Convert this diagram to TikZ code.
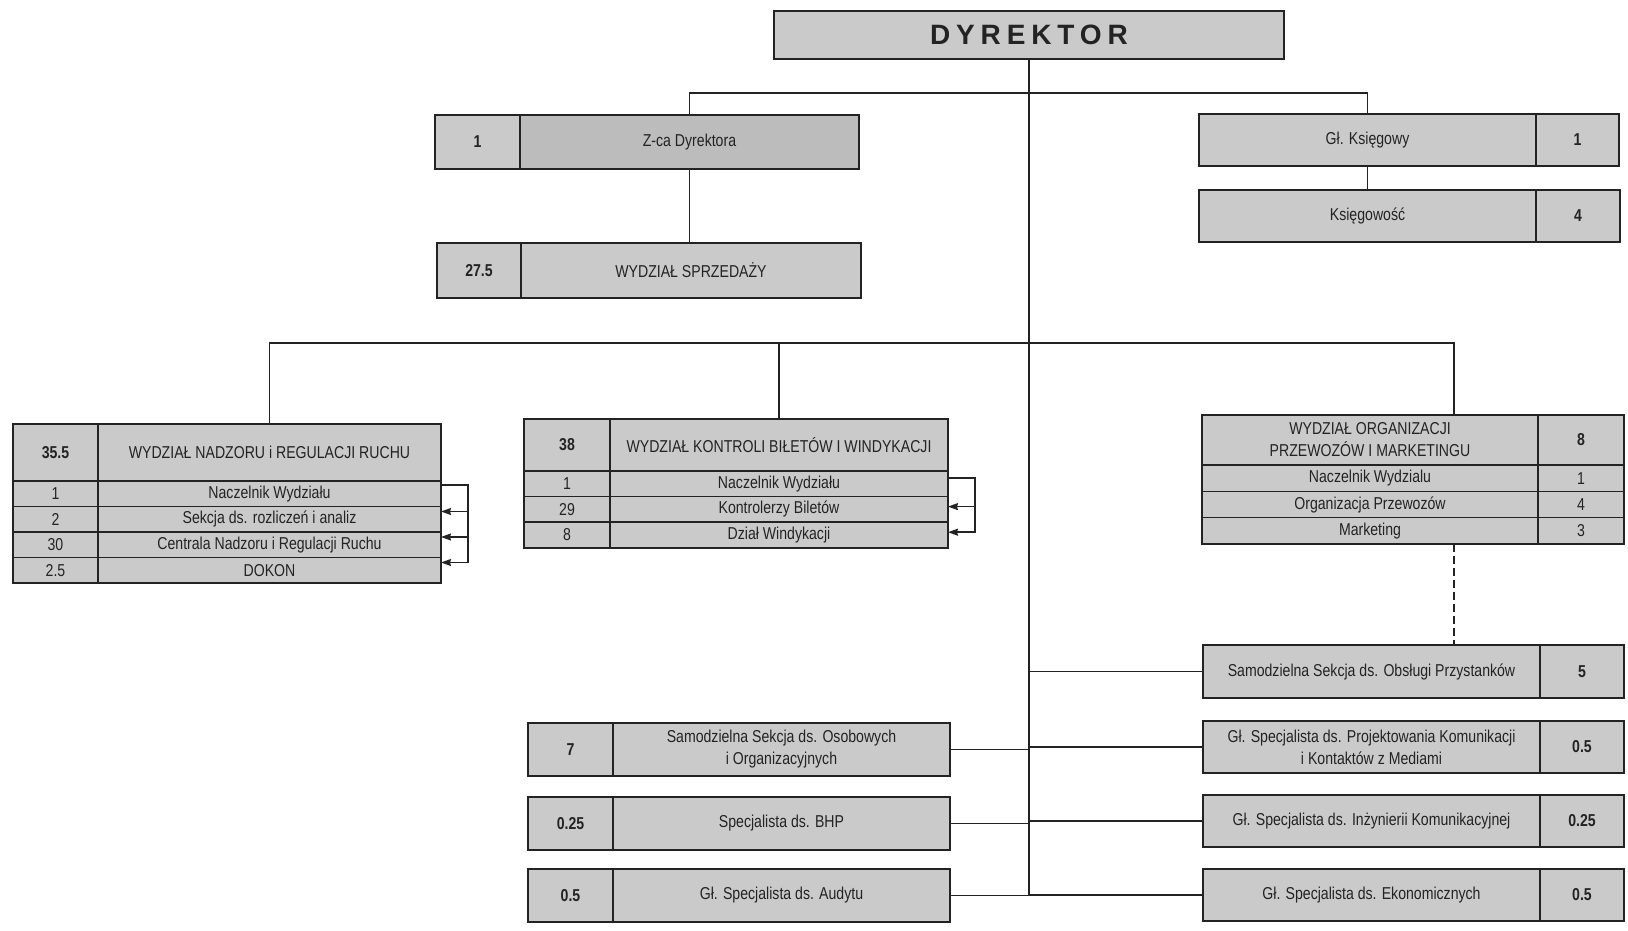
\documentclass[tikz,border=0pt]{standalone}
\usepackage{fontspec}
\setmainfont[FakeStretch=0.82]{Liberation Sans}
\newfontfamily\dirfont[LetterSpace=21]{Liberation Sans}
\usetikzlibrary{arrows.meta}

\definecolor{cellgray}{RGB}{202,202,202}
\definecolor{darkgray}{RGB}{188,188,188}
\definecolor{inkgray}{RGB}{35,35,35}

\tikzset{
  cell/.style={draw=inkgray,fill=cellgray,text=inkgray,inner sep=0pt,outer sep=0pt,
    anchor=north west,align=center,font=\fontsize{8.6}{11}\selectfont},
  head/.style={cell,line width=1.4pt},
  row/.style={cell,line width=0.8pt},
  num/.style={font=\fontsize{8.6}{11}\selectfont\bfseries},
  link/.style={draw=inkgray,line width=0.8pt},
  fb/.style={link,-{Stealth[length=5pt,width=3.5pt,inset=0.5pt]}},
}

\begin{document}
\begin{tikzpicture}[x=0.5pt,y=-0.5pt]
        \useasboundingbox (0,0) rectangle (1628,931);
        % kierownictwo
        \node [head,minimum width=255pt,minimum height=24pt,font=\dirfont\bfseries\fontsize{14}{16}\selectfont] (dyr) at (774,11) {DYREKTOR};
        \node [head,num,minimum width=42.5pt,minimum height=27pt] (zcaN) at (435,115) {1};
        \node [head,fill=darkgray,minimum width=169.5pt,minimum height=27pt] (zca) at (520,115) {Z-ca Dyrektora};
        \node [head,num,minimum width=42pt,minimum height=27.5pt] (sprN) at (437,243) {27.5};
        \node [head,minimum width=170pt,minimum height=27.5pt] (spr) at (521,243) {WYDZIAŁ SPRZEDAŻY};
        \node [head,minimum width=168.5pt,minimum height=26pt] (ksg) at (1199,114) {Gł. Księgowy};
        \node [head,num,minimum width=41.5pt,minimum height=26pt] (ksgN) at (1536,114) {1};
        \node [head,minimum width=168.5pt,minimum height=26pt] (ksw) at (1199,190) {Księgowość};
        \node [head,num,minimum width=42pt,minimum height=26pt] (kswN) at (1536,190) {4};

        % wydzial nadzoru
        \node [head,num,minimum width=42.5pt,minimum height=28.5pt] (nadN) at (13,424) {35.5};
        \node [head,minimum width=171.5pt,minimum height=28.5pt] (nad) at (98,424) {WYDZIAŁ NADZORU i REGULACJI RUCHU};
        \node [row,minimum width=42.5pt,minimum height=12.75pt] (nad1N) at (13,481) {1};
        \node [row,minimum width=171.5pt,minimum height=12.75pt] (nad1) at (98,481) {Naczelnik Wydziału};
        \node [row,minimum width=42.5pt,minimum height=12.75pt] (nad2N) at (13,506.5) {2};
        \node [row,minimum width=171.5pt,minimum height=12.75pt] (nad2) at (98,506.5) {Sekcja ds. rozliczeń i analiz};
        \node [row,minimum width=42.5pt,minimum height=12.75pt] (nad3N) at (13,532) {30};
        \node [row,minimum width=171.5pt,minimum height=12.75pt] (nad3) at (98,532) {Centrala Nadzoru i Regulacji Ruchu};
        \node [row,minimum width=42.5pt,minimum height=12.75pt] (nad4N) at (13,557.5) {2.5};
        \node [row,minimum width=171.5pt,minimum height=12.75pt] (nad4) at (98,557.5) {DOKON};

        % wydzial kontroli
        \node [head,num,minimum width=43pt,minimum height=26pt] (konN) at (524,419) {38};
        \node [head,minimum width=169pt,minimum height=26pt] (kon) at (610,419) {WYDZIAŁ KONTROLI BIŁETÓW I WINDYKACJI};
        \node [row,minimum width=43pt,minimum height=12.8pt] (kon1N) at (524,471) {1};
        \node [row,minimum width=169pt,minimum height=12.8pt] (kon1) at (610,471) {Naczelnik Wydziału};
        \node [row,minimum width=43pt,minimum height=12.8pt] (kon2N) at (524,496.6) {29};
        \node [row,minimum width=169pt,minimum height=12.8pt] (kon2) at (610,496.6) {Kontrolerzy Biletów};
        \node [row,minimum width=43pt,minimum height=12.8pt] (kon3N) at (524,522.2) {8};
        \node [row,minimum width=169pt,minimum height=12.8pt] (kon3) at (610,522.2) {Dział Windykacji};

        % wydzial organizacji
        \node [head,minimum width=168pt,minimum height=25pt] (org) at (1202,415) {WYDZIAŁ ORGANIZACJI\\PRZEWOZÓW I MARKETINGU};
        \node [head,num,minimum width=43pt,minimum height=25pt] (orgN) at (1538,415) {8};
        \node [row,minimum width=168pt,minimum height=13.15pt] (org1) at (1202,465) {Naczelnik Wydzialu};
        \node [row,minimum width=43pt,minimum height=13.15pt] (org1N) at (1538,465) {1};
        \node [row,minimum width=168pt,minimum height=13.15pt] (org2) at (1202,491.3) {Organizacja Przewozów};
        \node [row,minimum width=43pt,minimum height=13.15pt] (org2N) at (1538,491.3) {4};
        \node [row,minimum width=168pt,minimum height=13.15pt] (org3) at (1202,517.6) {Marketing};
        \node [row,minimum width=43pt,minimum height=13.15pt] (org3N) at (1538,517.6) {3};

        % stanowiska samodzielne
        \node [head,minimum width=168.5pt,minimum height=26.5pt] (obs) at (1203,645) {Samodzielna Sekcja ds. Obsługi Przystanków};
        \node [head,num,minimum width=42pt,minimum height=26.5pt] (obsN) at (1540,645) {5};
        \node [head,minimum width=168.5pt,minimum height=26pt] (pro) at (1203,721) {Gł. Specjalista ds. Projektowania Komunikacji\\i Kontaktów z Mediami};
        \node [head,num,minimum width=42pt,minimum height=26pt] (proN) at (1540,721) {0.5};
        \node [head,minimum width=168.5pt,minimum height=26pt] (inz) at (1203,795) {Gł. Specjalista ds. Inżynierii Komunikacyjnej};
        \node [head,num,minimum width=42pt,minimum height=26pt] (inzN) at (1540,795) {0.25};
        \node [head,minimum width=168.5pt,minimum height=26pt] (eko) at (1203,869) {Gł. Specjalista ds. Ekonomicznych};
        \node [head,num,minimum width=42pt,minimum height=26pt] (ekoN) at (1540,869) {0.5};
        \node [head,num,minimum width=42.5pt,minimum height=26.5pt] (osoN) at (528,723) {7};
        \node [head,minimum width=168.5pt,minimum height=26.5pt] (oso) at (613,723) {Samodzielna Sekcja ds. Osobowych\\i Organizacyjnych};
        \node [head,num,minimum width=42.5pt,minimum height=26.5pt] (bhpN) at (528,797) {0.25};
        \node [head,minimum width=168.5pt,minimum height=26.5pt] (bhp) at (613,797) {Specjalista ds. BHP};
        \node [head,num,minimum width=42.5pt,minimum height=26.5pt] (audN) at (528,869) {0.5};
        \node [head,minimum width=168.5pt,minimum height=26.5pt] (aud) at (613,869) {Gł. Specjalista ds. Audytu};

        % polaczenia
        \coordinate (topbar) at (690,93);
        \coordinate (busR) at (1454,343);
        \draw[link] (dyr.south) -- (dyr.south |- eko.west);
        \draw[link] (zca.north) |- (ksg.north |- topbar) -- (ksg.north);
        \draw[link] (zca.south) -- (zca.south |- spr.north);
        \draw[link] (ksg.south) -- (ksw.north);
        \draw[link] (nad.north) |- (busR) -- (busR |- org.north);
        \draw[link] (kon.north) -- (kon.north |- busR);
        \draw[link,dash pattern=on 4pt off 2pt] (busR |- org3.south) -- (busR |- obs.north);
        \draw[link] (dyr.south |- obs.west) -- (obs.west);
        \draw[link] (dyr.south |- pro.west) -- (pro.west);
        \draw[link] (dyr.south |- inz.west) -- (inz.west);
        \draw[link] (dyr.south |- eko.west) -- (eko.west);
        \draw[link] (oso.east) -- (oso.east -| dyr.south);
        \draw[link] (bhp.east) -- (bhp.east -| dyr.south);
        \draw[link] (aud.east) -- (aud.east -| dyr.south);

        % podleglosc w wydzialach
        \coordinate (nadfb) at ([xshift=13.5pt,yshift=-2pt]nad1.north east);
        \coordinate (nadin2) at ([yshift=-2.5pt]nad2.north east);
        \coordinate (nadin3) at ([yshift=-2.5pt]nad3.north east);
        \coordinate (nadin4) at ([yshift=-2.5pt]nad4.north east);
        \draw[fb] (nadfb -| nad1.east) -- (nadfb) |- (nadin4);
        \draw[fb] (nadfb |- nadin2) -- (nadin2);
        \draw[fb] (nadfb |- nadin3) -- (nadin3);
        \coordinate (konfb) at ([xshift=13.5pt,yshift=-3.5pt]kon1.north east);
        \coordinate (konin2) at ([yshift=-5pt]kon2.north east);
        \coordinate (konin3) at ([yshift=-5pt]kon3.north east);
        \draw[fb] (konfb -| kon1.east) -- (konfb) |- (konin3);
        \draw[fb] (konfb |- konin2) -- (konin2);
      \end{tikzpicture}
\end{document}
